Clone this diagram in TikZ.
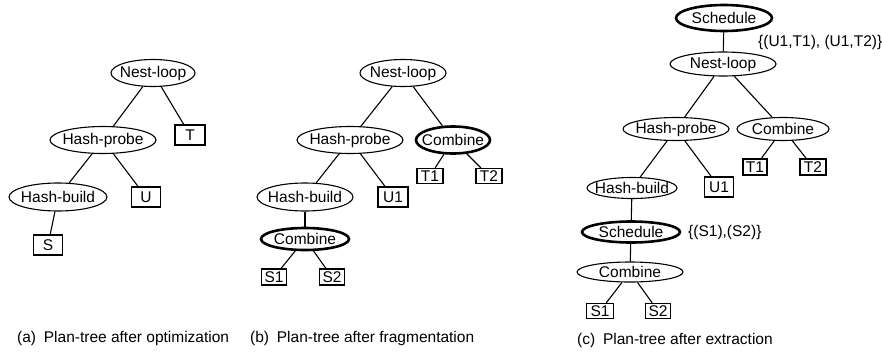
\documentclass[tikz,border=0pt]{standalone}
\usepackage{fontspec}
\setmainfont{Liberation Sans}
\usetikzlibrary{shapes.geometric}
\tikzset{
  txt/.style={font=\fontsize{15.5}{18}\selectfont, inner sep=0pt},
  op/.style={ellipse, draw, line width=1.1pt, inner sep=0pt, label={[txt]center:#1}},
  opthick/.style={op=#1, line width=2.6pt},
  rel/.style={rectangle, draw, line width=1.2pt, inner sep=0pt, txt},
  link/.style={line width=1.1pt},
  captext/.style={anchor=west, txt},
  lbl/.style={anchor=west, txt}
}
\begin{document}
\begin{tikzpicture}[x=1pt,y=-1pt]
\useasboundingbox (0,0) rectangle (882,353);

% (a) after optimization
\node[op=Nest-loop, minimum width=84pt, minimum height=27pt] (anl) at (153,73) {};
\node[op=Hash-probe, minimum width=106pt, minimum height=27pt] (ahp) at (103,140) {};
\node[rel, minimum width=30pt, minimum height=20pt] (at) at (190,135) {T};
\node[op=Hash-build, minimum width=98pt, minimum height=28pt] (ahb) at (58,197) {};
\node[rel, minimum width=29pt, minimum height=20pt] (au) at (146,197) {U};
\node[rel, minimum width=29pt, minimum height=20pt] (as) at (48,245) {S};
\draw[link] (anl) -- (ahp);
\draw[link] (anl) -- (at);
\draw[link] (ahp) -- (ahb);
\draw[link] (ahp) -- (au);
\draw[link] (ahb) -- (as);

% (b) after fragmentation
\node[op=Nest-loop, minimum width=86pt, minimum height=27pt] (bnl) at (403,73) {};
\node[op=Hash-probe, minimum width=106pt, minimum height=27pt] (bhp) at (350,140) {};
\node[opthick=Combine, minimum width=74pt, minimum height=27pt] (bcb) at (453,140) {};
\node[rel, minimum width=26pt, minimum height=15pt] (bt1) at (430,176) {T1};
\node[rel, minimum width=26pt, minimum height=15pt] (bt2) at (489,176) {T2};
\node[op=Hash-build, minimum width=96pt, minimum height=28pt] (bhb) at (305,197) {};
\node[rel, minimum width=30pt, minimum height=20pt] (bu1) at (393,197) {U1};
\node[opthick=Combine, minimum width=88pt, minimum height=22pt] (bcm) at (305,239) {};
\node[rel, minimum width=25pt, minimum height=16pt] (bs1) at (274,277) {S1};
\node[rel, minimum width=25pt, minimum height=16pt] (bs2) at (332,277) {S2};
\draw[link] (bnl) -- (bhp);
\draw[link] (bnl) -- (bcb);
\draw[link] (bcb) -- (bt1);
\draw[link] (bcb) -- (bt2);
\draw[link] (bhp) -- (bhb);
\draw[link] (bhp) -- (bu1);
\draw[link] (bhb) -- (bcm);
\draw[link] (bcm) -- (bs1);
\draw[link] (bcm) -- (bs2);

% (c) after extraction
\node[opthick=Schedule, minimum width=96pt, minimum height=26pt] (csc) at (724,18) {};
\node[lbl] (cl1) at (758,42) {\{(U1,T1), (U1,T2)\}};
\node[op=Nest-loop, minimum width=106pt, minimum height=24pt] (cnl) at (723,64) {};
\node[op=Hash-probe, minimum width=106pt, minimum height=23pt] (chp) at (676,129) {};
\node[op=Combine, minimum width=92pt, minimum height=23pt] (ccb) at (783,129) {};
\node[rel, minimum width=24pt, minimum height=16pt] (ct1) at (755,167) {T1};
\node[rel, minimum width=26pt, minimum height=16pt] (ct2) at (813,167) {T2};
\node[op=Hash-build, minimum width=90pt, minimum height=21pt] (chb) at (632,188) {};
\node[rel, minimum width=29pt, minimum height=20pt] (cu1) at (719,187) {U1};
\node[opthick=Schedule, minimum width=98pt, minimum height=21pt] (csc2) at (631,232) {};
\node[lbl] (cl2) at (688,232) {\{(S1),(S2)\}};
\node[op=Combine, minimum width=106pt, minimum height=20pt] (ccm) at (630,272) {};
\node[rel, minimum width=27pt, minimum height=15pt] (cs1) at (600,311) {S1};
\node[rel, minimum width=25pt, minimum height=15pt] (cs2) at (658,311) {S2};
\draw[link] (csc) -- (cnl);
\draw[link] (cnl) -- (chp);
\draw[link] (cnl) -- (ccb);
\draw[link] (ccb) -- (ct1);
\draw[link] (ccb) -- (ct2);
\draw[link] (chp) -- (chb);
\draw[link] (chp) -- (cu1);
\draw[link] (chb) -- (csc2);
\draw[link] (csc2) -- (ccm);
\draw[link] (ccm) -- (cs1);
\draw[link] (ccm) -- (cs2);

% captions
\node[captext] (capa) at (17,338) {(a)\enspace Plan-tree after optimization};
\node[captext] (capb) at (250,338) {(b)\enspace Plan-tree after fragmentation};
\node[captext] (capc) at (577,340) {(c)\enspace Plan-tree after extraction};
\end{tikzpicture}
\end{document}
